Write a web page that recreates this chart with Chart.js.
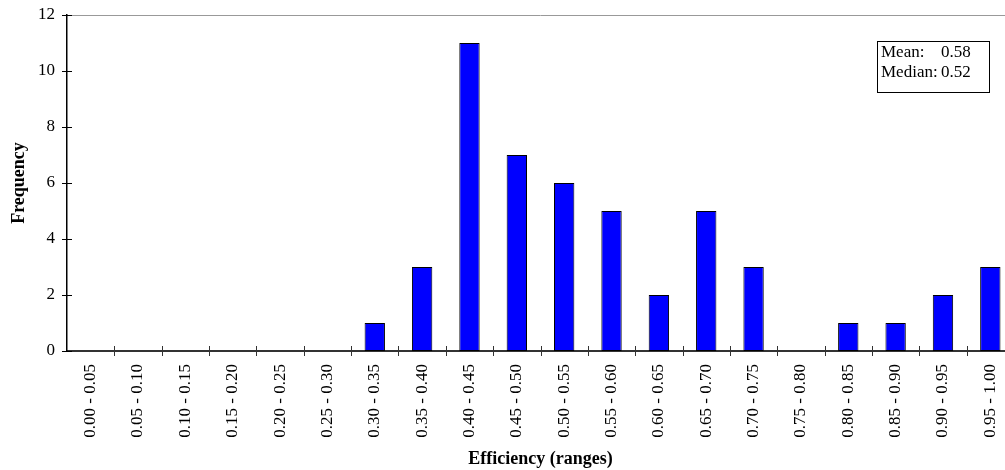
<!DOCTYPE html>
<html>
<head>
<meta charset="utf-8">
<script src="https://cdn.jsdelivr.net/npm/chart.js@4.4.1/dist/chart.umd.min.js"></script>
<style>
  html, body { margin: 0; padding: 0; background: #fff; overflow: hidden; }
  #wrap { width: 1014px; height: 470px; }
</style>
</head>
<body>
<div id="wrap"><canvas id="chart" width="1014" height="470"></canvas></div>
<script>
// categories + frequencies
const ranges = ['0.00 - 0.05', '0.05 - 0.10', '0.10 - 0.15', '0.15 - 0.20', '0.20 - 0.25',
    '0.25 - 0.30', '0.30 - 0.35', '0.35 - 0.40', '0.40 - 0.45', '0.45 - 0.50',
    '0.50 - 0.55', '0.55 - 0.60', '0.60 - 0.65', '0.65 - 0.70', '0.70 - 0.75',
    '0.75 - 0.80', '0.80 - 0.85', '0.85 - 0.90', '0.90 - 0.95', '0.95 - 1.00'];
const frequency = [0, 0, 0, 0, 0, 0, 1, 3, 11, 7, 6, 5, 2, 5, 3, 0, 1, 1, 2, 3];
const statLabels = ['Mean:', 'Median:'];
const statValues = ['0.58', '0.52'];

const FONT = '"Liberation Serif", "Times New Roman", serif';

// tick marks crossing the axes + gray top border + stats box
const decorations = {
    id: 'decorations',
    afterDraw(chart) {
        const { ctx, chartArea: a, scales: { x, y } } = chart;
        ctx.save();
        // top border
        ctx.strokeStyle = '#999';
        ctx.lineWidth = 1;
        ctx.beginPath();
        ctx.moveTo(a.left, a.top + 0.5);
        ctx.lineTo(a.right, a.top + 0.5);
        ctx.stroke();

        ctx.strokeStyle = '#000';
        ctx.lineWidth = 1;
        y.ticks.forEach(t => {
            const py = Math.round(y.getPixelForValue(t.value)) + 0.5;
            ctx.beginPath();
            ctx.moveTo(a.left - 5, py);
            ctx.lineTo(a.left + 5, py);
            ctx.stroke();
        });
        ctx.strokeStyle = '#333';
        for (let i = 1; i <= ranges.length; i++) {
            const px = Math.round(x.getPixelForValue(i - 0.5)) + 0.5;
            ctx.beginPath();
            ctx.moveTo(px, a.bottom - 5);
            ctx.lineTo(px, a.bottom + 5);
            ctx.stroke();
        }

        // stats box
        const bx = 877.5, by = 41.5, bw = 112, bh = 51;
        ctx.fillStyle = '#fff';
        ctx.fillRect(bx, by, bw, bh);
        ctx.strokeStyle = '#000';
        ctx.strokeRect(bx, by, bw, bh);
        ctx.fillStyle = '#000';
        ctx.font = '17px ' + FONT;
        ctx.textBaseline = 'alphabetic';
        ctx.textAlign = 'left';
        statLabels.forEach((lab, i) => {
            ctx.fillText(lab, 881, 57 + i * 20);
            ctx.fillText(statValues[i], 941, 57 + i * 20);
        });
        ctx.restore();
    }
};

new Chart(document.getElementById('chart'), {
    type: 'bar',
    data: {
        labels: ranges,
        datasets: [{
            data: frequency,
            backgroundColor: '#0000ff',
            borderColor: '#000',
            borderWidth: 1,
            borderSkipped: false,
            barPercentage: 0.43,
            categoryPercentage: 1.0
        }]
    },
    options: {
        responsive: false,
        animation: false,
        layout: { padding: { top: 15, right: 0, left: 0, bottom: 0 } },
        plugins: {
            legend: { display: false },
            tooltip: { enabled: false }
        },
        scales: {
            x: {
                grid: { display: false, drawTicks: false },
                border: { color: '#333', width: 2 },
                ticks: {
                    color: '#000',
                    font: { family: FONT, size: 17 },
                    minRotation: 90,
                    maxRotation: 90,
                    padding: 13,
                    autoSkip: false
                },
                title: {
                    display: true,
                    text: 'Efficiency (ranges)',
                    color: '#000',
                    font: { family: FONT, size: 18, weight: 'bold' },
                    padding: { top: 4, bottom: 0 }
                },
                afterFit(s) {
                    s.height = 119;
                    s.paddingLeft = 0;
                    s.paddingRight = 0;
                }
            },
            y: {
                min: 0,
                max: 12,
                ticks: {
                    stepSize: 2,
                    color: '#000',
                    font: { family: FONT, size: 17 },
                    padding: 12
                },
                grid: { display: false, drawTicks: false },
                border: { color: '#000', width: 1.5 },
                title: {
                    display: true,
                    text: 'Frequency',
                    color: '#000',
                    font: { family: FONT, size: 18, weight: 'bold' },
                    padding: { top: 9, bottom: 0 }
                },
                afterFit(s) {
                    s.width = 67;
                    s.paddingTop = 0;
                    s.paddingBottom = 0;
                }
            }
        }
    },
    plugins: [decorations]
});
</script>
</body>
</html>
